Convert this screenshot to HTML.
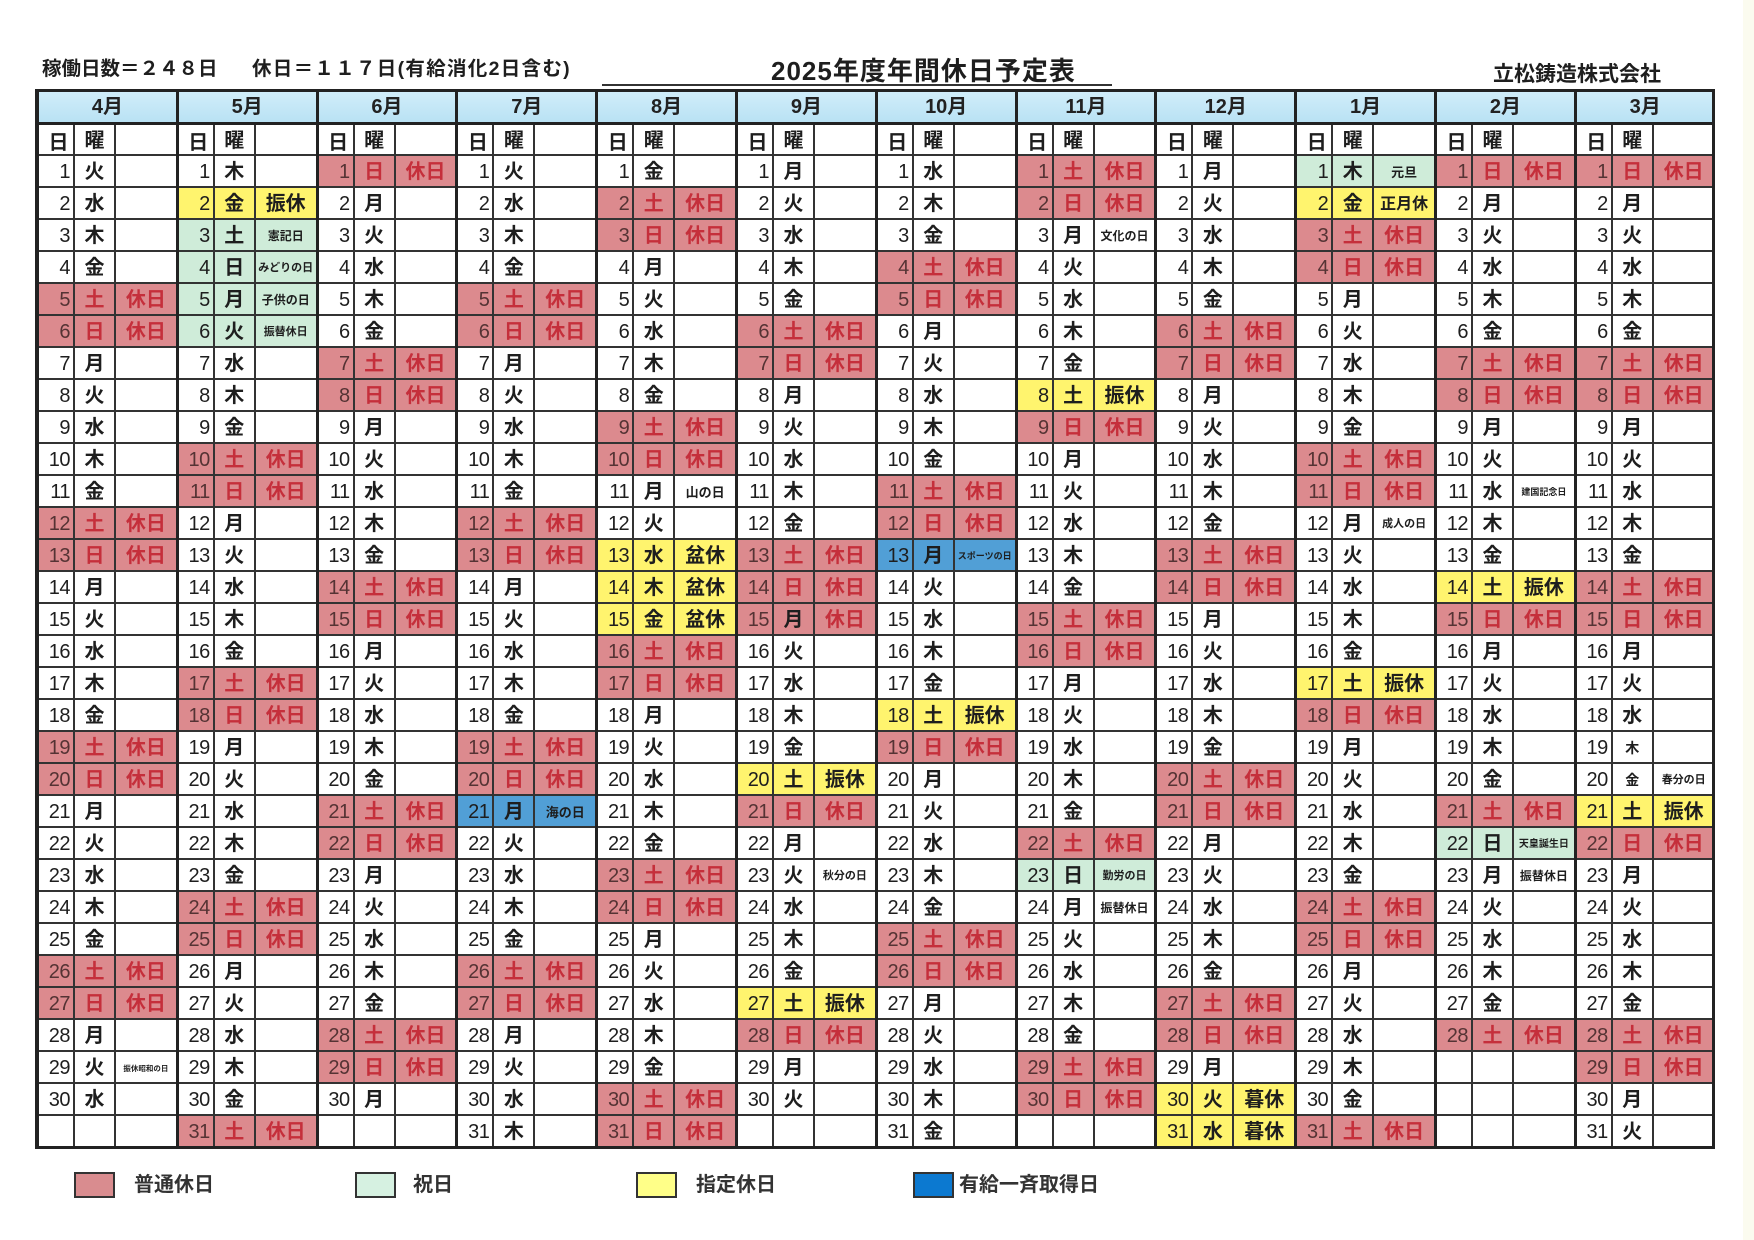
<!DOCTYPE html>
<html lang="ja">
<head>
<meta charset="utf-8">
<style>
*{margin:0;padding:0;box-sizing:border-box}
html,body{width:1754px;height:1240px;background:#fff;overflow:hidden}
body{position:relative;font-family:"Liberation Sans","Noto Sans CJK JP",sans-serif;color:#1e1e1e}
.hdr{position:absolute;white-space:nowrap;font-weight:bold}
.m{position:absolute;top:90px;width:139.8px;height:1058px;border-left:3px solid #222}
.m h2{height:35px;border-bottom:3px solid #222;background:linear-gradient(#d2eefa,#b9e2f4);font-size:20px;font-weight:bold;text-align:center;line-height:34px;color:#222}
.m p{display:flex;height:32px;border-bottom:2px solid #333;line-height:31px;white-space:nowrap;overflow:hidden}
.m p.h{height:31px;line-height:30px}
.m i,.m b,.m em{font-style:normal;display:block;height:100%;padding-top:1px}
.m i{width:36px;border-right:2px solid #333;text-align:right;padding-right:3px;font-size:20px;letter-spacing:-0.5px}
.m b{width:41px;border-right:2px solid #333;text-align:center;font-size:20px;font-weight:bold}
.m em{flex:1;text-align:center;font-size:20px;font-weight:bold;overflow:hidden}
.m p.h i{font-family:"Noto Sans CJK JP",sans-serif;font-weight:bold;padding-right:5px}
.r{background:#dc8a8e}
.r i{color:#553334}
.r b,.r em{color:#c52f3b}
.r b.k{color:#1e1e1e}
.g{background:#cfecd9}
.y{background:#fff46e}
.bl{background:#519fd6}
.m em.n16{font-size:16px}
.m em.n13{font-size:13px}
.m em.n12{font-size:12px}
.m em.n11{font-size:11px}
.m em.n10{font-size:10px}
.m em.n9{font-size:9px}
.m em.n8{font-size:7.5px}
.m b.sm{font-size:14px}
.outer{position:absolute;left:35px;top:89px;width:1680px;height:1060px;border:3px solid #222}
.lg{position:absolute;top:1172px;width:41px;height:26px;border:2px solid #333}
.lt{position:absolute;top:1171px;font-size:20px;line-height:28px;font-weight:bold;color:#333;white-space:nowrap}
</style>
</head>
<body>
<div class="hdr" style="left:42px;top:57px;font-size:19.5px;line-height:24px;">稼働日数＝２４８日</div>
<div class="hdr" style="left:252px;top:57px;font-size:19.5px;line-height:24px;letter-spacing:1.3px;">休日＝１１７日(有給消化2日含む)</div>
<div class="hdr" style="left:771px;top:56px;font-size:26px;line-height:30px;letter-spacing:1px;">2025年度年間休日予定表</div>
<div style="position:absolute;left:602px;top:84px;width:510px;height:2px;background:#333"></div>
<div class="hdr" style="left:1493px;top:62px;font-size:21px;line-height:25px;">立松鋳造株式会社</div>
<div style="position:absolute;left:1743px;top:0;width:11px;height:1240px;background:#fbfbef"></div>

<!-- April -->
<div class="m" style="left:36px">
<h2>4月</h2>
<p class="h"><i>日</i><b>曜</b></p>
<p><i>1</i><b>火</b></p>
<p><i>2</i><b>水</b></p>
<p><i>3</i><b>木</b></p>
<p><i>4</i><b>金</b></p>
<p class="r"><i>5</i><b>土</b><em>休日</em></p>
<p class="r"><i>6</i><b>日</b><em>休日</em></p>
<p><i>7</i><b>月</b></p>
<p><i>8</i><b>火</b></p>
<p><i>9</i><b>水</b></p>
<p><i>10</i><b>木</b></p>
<p><i>11</i><b>金</b></p>
<p class="r"><i>12</i><b>土</b><em>休日</em></p>
<p class="r"><i>13</i><b>日</b><em>休日</em></p>
<p><i>14</i><b>月</b></p>
<p><i>15</i><b>火</b></p>
<p><i>16</i><b>水</b></p>
<p><i>17</i><b>木</b></p>
<p><i>18</i><b>金</b></p>
<p class="r"><i>19</i><b>土</b><em>休日</em></p>
<p class="r"><i>20</i><b>日</b><em>休日</em></p>
<p><i>21</i><b>月</b></p>
<p><i>22</i><b>火</b></p>
<p><i>23</i><b>水</b></p>
<p><i>24</i><b>木</b></p>
<p><i>25</i><b>金</b></p>
<p class="r"><i>26</i><b>土</b><em>休日</em></p>
<p class="r"><i>27</i><b>日</b><em>休日</em></p>
<p><i>28</i><b>月</b></p>
<p><i>29</i><b>火</b><em class="n8">振休昭和の日</em></p>
<p><i>30</i><b>水</b></p>
<p><i></i><b></b></p>
</div>

<!-- May -->
<div class="m" style="left:175.8px">
<h2>5月</h2>
<p class="h"><i>日</i><b>曜</b></p>
<p><i>1</i><b>木</b></p>
<p class="y"><i>2</i><b>金</b><em>振休</em></p>
<p class="g"><i>3</i><b>土</b><em class="n12">憲記日</em></p>
<p class="g"><i>4</i><b>日</b><em class="n11">みどりの日</em></p>
<p class="g"><i>5</i><b>月</b><em class="n12">子供の日</em></p>
<p class="g"><i>6</i><b>火</b><em class="n11">振替休日</em></p>
<p><i>7</i><b>水</b></p>
<p><i>8</i><b>木</b></p>
<p><i>9</i><b>金</b></p>
<p class="r"><i>10</i><b>土</b><em>休日</em></p>
<p class="r"><i>11</i><b>日</b><em>休日</em></p>
<p><i>12</i><b>月</b></p>
<p><i>13</i><b>火</b></p>
<p><i>14</i><b>水</b></p>
<p><i>15</i><b>木</b></p>
<p><i>16</i><b>金</b></p>
<p class="r"><i>17</i><b>土</b><em>休日</em></p>
<p class="r"><i>18</i><b>日</b><em>休日</em></p>
<p><i>19</i><b>月</b></p>
<p><i>20</i><b>火</b></p>
<p><i>21</i><b>水</b></p>
<p><i>22</i><b>木</b></p>
<p><i>23</i><b>金</b></p>
<p class="r"><i>24</i><b>土</b><em>休日</em></p>
<p class="r"><i>25</i><b>日</b><em>休日</em></p>
<p><i>26</i><b>月</b></p>
<p><i>27</i><b>火</b></p>
<p><i>28</i><b>水</b></p>
<p><i>29</i><b>木</b></p>
<p><i>30</i><b>金</b></p>
<p class="r"><i>31</i><b>土</b><em>休日</em></p>
</div>

<!-- June -->
<div class="m" style="left:315.6px">
<h2>6月</h2>
<p class="h"><i>日</i><b>曜</b></p>
<p class="r"><i>1</i><b>日</b><em>休日</em></p>
<p><i>2</i><b>月</b></p>
<p><i>3</i><b>火</b></p>
<p><i>4</i><b>水</b></p>
<p><i>5</i><b>木</b></p>
<p><i>6</i><b>金</b></p>
<p class="r"><i>7</i><b>土</b><em>休日</em></p>
<p class="r"><i>8</i><b>日</b><em>休日</em></p>
<p><i>9</i><b>月</b></p>
<p><i>10</i><b>火</b></p>
<p><i>11</i><b>水</b></p>
<p><i>12</i><b>木</b></p>
<p><i>13</i><b>金</b></p>
<p class="r"><i>14</i><b>土</b><em>休日</em></p>
<p class="r"><i>15</i><b>日</b><em>休日</em></p>
<p><i>16</i><b>月</b></p>
<p><i>17</i><b>火</b></p>
<p><i>18</i><b>水</b></p>
<p><i>19</i><b>木</b></p>
<p><i>20</i><b>金</b></p>
<p class="r"><i>21</i><b>土</b><em>休日</em></p>
<p class="r"><i>22</i><b>日</b><em>休日</em></p>
<p><i>23</i><b>月</b></p>
<p><i>24</i><b>火</b></p>
<p><i>25</i><b>水</b></p>
<p><i>26</i><b>木</b></p>
<p><i>27</i><b>金</b></p>
<p class="r"><i>28</i><b>土</b><em>休日</em></p>
<p class="r"><i>29</i><b>日</b><em>休日</em></p>
<p><i>30</i><b>月</b></p>
<p><i></i><b></b></p>
</div>

<!-- July -->
<div class="m" style="left:455.4px">
<h2>7月</h2>
<p class="h"><i>日</i><b>曜</b></p>
<p><i>1</i><b>火</b></p>
<p><i>2</i><b>水</b></p>
<p><i>3</i><b>木</b></p>
<p><i>4</i><b>金</b></p>
<p class="r"><i>5</i><b>土</b><em>休日</em></p>
<p class="r"><i>6</i><b>日</b><em>休日</em></p>
<p><i>7</i><b>月</b></p>
<p><i>8</i><b>火</b></p>
<p><i>9</i><b>水</b></p>
<p><i>10</i><b>木</b></p>
<p><i>11</i><b>金</b></p>
<p class="r"><i>12</i><b>土</b><em>休日</em></p>
<p class="r"><i>13</i><b>日</b><em>休日</em></p>
<p><i>14</i><b>月</b></p>
<p><i>15</i><b>火</b></p>
<p><i>16</i><b>水</b></p>
<p><i>17</i><b>木</b></p>
<p><i>18</i><b>金</b></p>
<p class="r"><i>19</i><b>土</b><em>休日</em></p>
<p class="r"><i>20</i><b>日</b><em>休日</em></p>
<p class="bl"><i>21</i><b>月</b><em class="n13">海の日</em></p>
<p><i>22</i><b>火</b></p>
<p><i>23</i><b>水</b></p>
<p><i>24</i><b>木</b></p>
<p><i>25</i><b>金</b></p>
<p class="r"><i>26</i><b>土</b><em>休日</em></p>
<p class="r"><i>27</i><b>日</b><em>休日</em></p>
<p><i>28</i><b>月</b></p>
<p><i>29</i><b>火</b></p>
<p><i>30</i><b>水</b></p>
<p><i>31</i><b>木</b></p>
</div>

<!-- August -->
<div class="m" style="left:595.2px">
<h2>8月</h2>
<p class="h"><i>日</i><b>曜</b></p>
<p><i>1</i><b>金</b></p>
<p class="r"><i>2</i><b>土</b><em>休日</em></p>
<p class="r"><i>3</i><b>日</b><em>休日</em></p>
<p><i>4</i><b>月</b></p>
<p><i>5</i><b>火</b></p>
<p><i>6</i><b>水</b></p>
<p><i>7</i><b>木</b></p>
<p><i>8</i><b>金</b></p>
<p class="r"><i>9</i><b>土</b><em>休日</em></p>
<p class="r"><i>10</i><b>日</b><em>休日</em></p>
<p><i>11</i><b>月</b><em class="n13">山の日</em></p>
<p><i>12</i><b>火</b></p>
<p class="y"><i>13</i><b>水</b><em>盆休</em></p>
<p class="y"><i>14</i><b>木</b><em>盆休</em></p>
<p class="y"><i>15</i><b>金</b><em>盆休</em></p>
<p class="r"><i>16</i><b>土</b><em>休日</em></p>
<p class="r"><i>17</i><b>日</b><em>休日</em></p>
<p><i>18</i><b>月</b></p>
<p><i>19</i><b>火</b></p>
<p><i>20</i><b>水</b></p>
<p><i>21</i><b>木</b></p>
<p><i>22</i><b>金</b></p>
<p class="r"><i>23</i><b>土</b><em>休日</em></p>
<p class="r"><i>24</i><b>日</b><em>休日</em></p>
<p><i>25</i><b>月</b></p>
<p><i>26</i><b>火</b></p>
<p><i>27</i><b>水</b></p>
<p><i>28</i><b>木</b></p>
<p><i>29</i><b>金</b></p>
<p class="r"><i>30</i><b>土</b><em>休日</em></p>
<p class="r"><i>31</i><b>日</b><em>休日</em></p>
</div>

<!-- September -->
<div class="m" style="left:735px">
<h2>9月</h2>
<p class="h"><i>日</i><b>曜</b></p>
<p><i>1</i><b>月</b></p>
<p><i>2</i><b>火</b></p>
<p><i>3</i><b>水</b></p>
<p><i>4</i><b>木</b></p>
<p><i>5</i><b>金</b></p>
<p class="r"><i>6</i><b>土</b><em>休日</em></p>
<p class="r"><i>7</i><b>日</b><em>休日</em></p>
<p><i>8</i><b>月</b></p>
<p><i>9</i><b>火</b></p>
<p><i>10</i><b>水</b></p>
<p><i>11</i><b>木</b></p>
<p><i>12</i><b>金</b></p>
<p class="r"><i>13</i><b>土</b><em>休日</em></p>
<p class="r"><i>14</i><b>日</b><em>休日</em></p>
<p class="r"><i>15</i><b class="k">月</b><em>休日</em></p>
<p><i>16</i><b>火</b></p>
<p><i>17</i><b>水</b></p>
<p><i>18</i><b>木</b></p>
<p><i>19</i><b>金</b></p>
<p class="y"><i>20</i><b>土</b><em>振休</em></p>
<p class="r"><i>21</i><b>日</b><em>休日</em></p>
<p><i>22</i><b>月</b></p>
<p><i>23</i><b>火</b><em class="n11">秋分の日</em></p>
<p><i>24</i><b>水</b></p>
<p><i>25</i><b>木</b></p>
<p><i>26</i><b>金</b></p>
<p class="y"><i>27</i><b>土</b><em>振休</em></p>
<p class="r"><i>28</i><b>日</b><em>休日</em></p>
<p><i>29</i><b>月</b></p>
<p><i>30</i><b>火</b></p>
<p><i></i><b></b></p>
</div>

<!-- October -->
<div class="m" style="left:874.8px">
<h2>10月</h2>
<p class="h"><i>日</i><b>曜</b></p>
<p><i>1</i><b>水</b></p>
<p><i>2</i><b>木</b></p>
<p><i>3</i><b>金</b></p>
<p class="r"><i>4</i><b>土</b><em>休日</em></p>
<p class="r"><i>5</i><b>日</b><em>休日</em></p>
<p><i>6</i><b>月</b></p>
<p><i>7</i><b>火</b></p>
<p><i>8</i><b>水</b></p>
<p><i>9</i><b>木</b></p>
<p><i>10</i><b>金</b></p>
<p class="r"><i>11</i><b>土</b><em>休日</em></p>
<p class="r"><i>12</i><b>日</b><em>休日</em></p>
<p class="bl"><i>13</i><b>月</b><em class="n9">スポーツの日</em></p>
<p><i>14</i><b>火</b></p>
<p><i>15</i><b>水</b></p>
<p><i>16</i><b>木</b></p>
<p><i>17</i><b>金</b></p>
<p class="y"><i>18</i><b>土</b><em>振休</em></p>
<p class="r"><i>19</i><b>日</b><em>休日</em></p>
<p><i>20</i><b>月</b></p>
<p><i>21</i><b>火</b></p>
<p><i>22</i><b>水</b></p>
<p><i>23</i><b>木</b></p>
<p><i>24</i><b>金</b></p>
<p class="r"><i>25</i><b>土</b><em>休日</em></p>
<p class="r"><i>26</i><b>日</b><em>休日</em></p>
<p><i>27</i><b>月</b></p>
<p><i>28</i><b>火</b></p>
<p><i>29</i><b>水</b></p>
<p><i>30</i><b>木</b></p>
<p><i>31</i><b>金</b></p>
</div>

<!-- November -->
<div class="m" style="left:1014.6px">
<h2>11月</h2>
<p class="h"><i>日</i><b>曜</b></p>
<p class="r"><i>1</i><b>土</b><em>休日</em></p>
<p class="r"><i>2</i><b>日</b><em>休日</em></p>
<p><i>3</i><b>月</b><em class="n12">文化の日</em></p>
<p><i>4</i><b>火</b></p>
<p><i>5</i><b>水</b></p>
<p><i>6</i><b>木</b></p>
<p><i>7</i><b>金</b></p>
<p class="y"><i>8</i><b>土</b><em>振休</em></p>
<p class="r"><i>9</i><b>日</b><em>休日</em></p>
<p><i>10</i><b>月</b></p>
<p><i>11</i><b>火</b></p>
<p><i>12</i><b>水</b></p>
<p><i>13</i><b>木</b></p>
<p><i>14</i><b>金</b></p>
<p class="r"><i>15</i><b>土</b><em>休日</em></p>
<p class="r"><i>16</i><b>日</b><em>休日</em></p>
<p><i>17</i><b>月</b></p>
<p><i>18</i><b>火</b></p>
<p><i>19</i><b>水</b></p>
<p><i>20</i><b>木</b></p>
<p><i>21</i><b>金</b></p>
<p class="r"><i>22</i><b>土</b><em>休日</em></p>
<p class="g"><i>23</i><b>日</b><em class="n11">勤労の日</em></p>
<p><i>24</i><b>月</b><em class="n12">振替休日</em></p>
<p><i>25</i><b>火</b></p>
<p><i>26</i><b>水</b></p>
<p><i>27</i><b>木</b></p>
<p><i>28</i><b>金</b></p>
<p class="r"><i>29</i><b>土</b><em>休日</em></p>
<p class="r"><i>30</i><b>日</b><em>休日</em></p>
<p><i></i><b></b></p>
</div>

<!-- December -->
<div class="m" style="left:1154.4px">
<h2>12月</h2>
<p class="h"><i>日</i><b>曜</b></p>
<p><i>1</i><b>月</b></p>
<p><i>2</i><b>火</b></p>
<p><i>3</i><b>水</b></p>
<p><i>4</i><b>木</b></p>
<p><i>5</i><b>金</b></p>
<p class="r"><i>6</i><b>土</b><em>休日</em></p>
<p class="r"><i>7</i><b>日</b><em>休日</em></p>
<p><i>8</i><b>月</b></p>
<p><i>9</i><b>火</b></p>
<p><i>10</i><b>水</b></p>
<p><i>11</i><b>木</b></p>
<p><i>12</i><b>金</b></p>
<p class="r"><i>13</i><b>土</b><em>休日</em></p>
<p class="r"><i>14</i><b>日</b><em>休日</em></p>
<p><i>15</i><b>月</b></p>
<p><i>16</i><b>火</b></p>
<p><i>17</i><b>水</b></p>
<p><i>18</i><b>木</b></p>
<p><i>19</i><b>金</b></p>
<p class="r"><i>20</i><b>土</b><em>休日</em></p>
<p class="r"><i>21</i><b>日</b><em>休日</em></p>
<p><i>22</i><b>月</b></p>
<p><i>23</i><b>火</b></p>
<p><i>24</i><b>水</b></p>
<p><i>25</i><b>木</b></p>
<p><i>26</i><b>金</b></p>
<p class="r"><i>27</i><b>土</b><em>休日</em></p>
<p class="r"><i>28</i><b>日</b><em>休日</em></p>
<p><i>29</i><b>月</b></p>
<p class="y"><i>30</i><b>火</b><em>暮休</em></p>
<p class="y"><i>31</i><b>水</b><em>暮休</em></p>
</div>

<!-- January -->
<div class="m" style="left:1294.2px">
<h2>1月</h2>
<p class="h"><i>日</i><b>曜</b></p>
<p class="g"><i>1</i><b>木</b><em class="n13">元旦</em></p>
<p class="y"><i>2</i><b>金</b><em class="n16">正月休</em></p>
<p class="r"><i>3</i><b>土</b><em>休日</em></p>
<p class="r"><i>4</i><b>日</b><em>休日</em></p>
<p><i>5</i><b>月</b></p>
<p><i>6</i><b>火</b></p>
<p><i>7</i><b>水</b></p>
<p><i>8</i><b>木</b></p>
<p><i>9</i><b>金</b></p>
<p class="r"><i>10</i><b>土</b><em>休日</em></p>
<p class="r"><i>11</i><b>日</b><em>休日</em></p>
<p><i>12</i><b>月</b><em class="n11">成人の日</em></p>
<p><i>13</i><b>火</b></p>
<p><i>14</i><b>水</b></p>
<p><i>15</i><b>木</b></p>
<p><i>16</i><b>金</b></p>
<p class="y"><i>17</i><b>土</b><em>振休</em></p>
<p class="r"><i>18</i><b>日</b><em>休日</em></p>
<p><i>19</i><b>月</b></p>
<p><i>20</i><b>火</b></p>
<p><i>21</i><b>水</b></p>
<p><i>22</i><b>木</b></p>
<p><i>23</i><b>金</b></p>
<p class="r"><i>24</i><b>土</b><em>休日</em></p>
<p class="r"><i>25</i><b>日</b><em>休日</em></p>
<p><i>26</i><b>月</b></p>
<p><i>27</i><b>火</b></p>
<p><i>28</i><b>水</b></p>
<p><i>29</i><b>木</b></p>
<p><i>30</i><b>金</b></p>
<p class="r"><i>31</i><b>土</b><em>休日</em></p>
</div>

<!-- February -->
<div class="m" style="left:1434px">
<h2>2月</h2>
<p class="h"><i>日</i><b>曜</b></p>
<p class="r"><i>1</i><b>日</b><em>休日</em></p>
<p><i>2</i><b>月</b></p>
<p><i>3</i><b>火</b></p>
<p><i>4</i><b>水</b></p>
<p><i>5</i><b>木</b></p>
<p><i>6</i><b>金</b></p>
<p class="r"><i>7</i><b>土</b><em>休日</em></p>
<p class="r"><i>8</i><b>日</b><em>休日</em></p>
<p><i>9</i><b>月</b></p>
<p><i>10</i><b>火</b></p>
<p><i>11</i><b>水</b><em class="n9">建国記念日</em></p>
<p><i>12</i><b>木</b></p>
<p><i>13</i><b>金</b></p>
<p class="y"><i>14</i><b>土</b><em>振休</em></p>
<p class="r"><i>15</i><b>日</b><em>休日</em></p>
<p><i>16</i><b>月</b></p>
<p><i>17</i><b>火</b></p>
<p><i>18</i><b>水</b></p>
<p><i>19</i><b>木</b></p>
<p><i>20</i><b>金</b></p>
<p class="r"><i>21</i><b>土</b><em>休日</em></p>
<p class="g"><i>22</i><b>日</b><em class="n10">天皇誕生日</em></p>
<p><i>23</i><b>月</b><em class="n12">振替休日</em></p>
<p><i>24</i><b>火</b></p>
<p><i>25</i><b>水</b></p>
<p><i>26</i><b>木</b></p>
<p><i>27</i><b>金</b></p>
<p class="r"><i>28</i><b>土</b><em>休日</em></p>
<p><i></i><b></b></p>
<p><i></i><b></b></p>
<p><i></i><b></b></p>
</div>

<!-- March -->
<div class="m" style="left:1573.8px">
<h2>3月</h2>
<p class="h"><i>日</i><b>曜</b></p>
<p class="r"><i>1</i><b>日</b><em>休日</em></p>
<p><i>2</i><b>月</b></p>
<p><i>3</i><b>火</b></p>
<p><i>4</i><b>水</b></p>
<p><i>5</i><b>木</b></p>
<p><i>6</i><b>金</b></p>
<p class="r"><i>7</i><b>土</b><em>休日</em></p>
<p class="r"><i>8</i><b>日</b><em>休日</em></p>
<p><i>9</i><b>月</b></p>
<p><i>10</i><b>火</b></p>
<p><i>11</i><b>水</b></p>
<p><i>12</i><b>木</b></p>
<p><i>13</i><b>金</b></p>
<p class="r"><i>14</i><b>土</b><em>休日</em></p>
<p class="r"><i>15</i><b>日</b><em>休日</em></p>
<p><i>16</i><b>月</b></p>
<p><i>17</i><b>火</b></p>
<p><i>18</i><b>水</b></p>
<p><i>19</i><b class="sm">木</b></p>
<p><i>20</i><b class="sm">金</b><em class="n11">春分の日</em></p>
<p class="y"><i>21</i><b>土</b><em>振休</em></p>
<p class="r"><i>22</i><b>日</b><em>休日</em></p>
<p><i>23</i><b>月</b></p>
<p><i>24</i><b>火</b></p>
<p><i>25</i><b>水</b></p>
<p><i>26</i><b>木</b></p>
<p><i>27</i><b>金</b></p>
<p class="r"><i>28</i><b>土</b><em>休日</em></p>
<p class="r"><i>29</i><b>日</b><em>休日</em></p>
<p><i>30</i><b>月</b></p>
<p><i>31</i><b>火</b></p>
</div>

<div class="outer"></div>

<!-- Legend -->
<div class="lg" style="left:74px;background:#d98c8f"></div>
<div class="lt" style="left:134px">普通休日</div>
<div class="lg" style="left:355px;background:#d6f1e1"></div>
<div class="lt" style="left:413px">祝日</div>
<div class="lg" style="left:636px;background:#ffff88"></div>
<div class="lt" style="left:696px">指定休日</div>
<div class="lg" style="left:913px;background:#0c79d0"></div>
<div class="lt" style="left:959px">有給一斉取得日</div>
</body>
</html>
